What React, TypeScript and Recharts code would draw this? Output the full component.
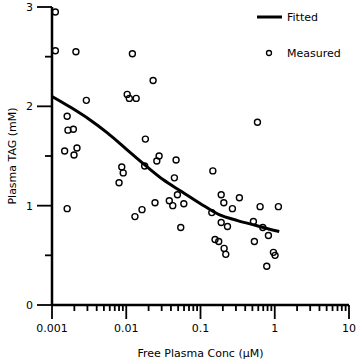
import React from 'react';
import { ComposedChart, Scatter, Line, XAxis, YAxis } from 'recharts';

// Measured points: free plasma concentration (µM) and plasma TAG (mM)
const measuredConc = [
  0.00111, 0.00111, 0.0021, 0.0121, 0.023, 0.0029, 0.0103, 0.011, 0.0136, 0.0016,
  0.00164, 0.00194, 0.00148, 0.00217, 0.00198, 0.0181, 0.0087, 0.0091, 0.008, 0.0177,
  0.0016, 0.0163, 0.0131, 0.0244, 0.585, 0.0277, 0.0258, 0.0469, 0.0445, 0.1466,
  0.038, 0.0423, 0.0489, 0.0596, 0.0542, 0.19, 0.206, 0.334, 0.269, 0.142,
  0.19, 0.231, 0.157, 0.176, 0.208, 0.219, 0.516, 0.532, 0.635, 1.12,
  0.822, 0.96, 1.01, 0.78, 0.69,
];
const measuredTag = [
  2.95, 2.56, 2.55, 2.53, 2.26, 2.06, 2.12, 2.08, 2.08, 1.9,
  1.76, 1.77, 1.55, 1.58, 1.51, 1.67, 1.39, 1.33, 1.23, 1.4,
  0.97, 0.96, 0.89, 1.03, 1.84, 1.5, 1.45, 1.46, 1.28, 1.35,
  1.05, 1.0, 1.11, 1.02, 0.78, 1.11, 1.03, 1.08, 0.97, 0.93,
  0.83, 0.79, 0.66, 0.64, 0.57, 0.51, 0.84, 0.64, 0.99, 0.99,
  0.7, 0.53, 0.5, 0.39, 0.78,
];

// Fitted curve
const fittedConc = [0.001, 0.00178, 0.00316, 0.00562, 0.01, 0.0178, 0.0316, 0.0562, 0.1, 0.178, 0.316, 0.562, 1, 1.15];
const fittedTag = [2.1, 1.99, 1.87, 1.73, 1.57, 1.41, 1.26, 1.14, 1.02, 0.91, 0.85, 0.8, 0.75, 0.74];

// Axis ticks
const xMajorTicks = [0.001, 0.01, 0.1, 1, 10];
const xMajorLabels = ['0.001', '0.01', '0.1', '1', '10'];
const xMinorSteps = [2, 3, 4, 5, 6, 7, 8, 9];
const yTicks = [0, 0.5, 1, 1.5, 2, 2.5, 3];
const yLabels = ['0', '', '1', '', '2', '', '3'];

const xTitle = 'Free Plasma Conc (μM)';
const yTitle = 'Plasma TAG (mM)';
const legendNames = ['Fitted', 'Measured'];

const measured = measuredConc.map((x, i) => ({ x, y: measuredTag[i] }));
const fitted = fittedConc.map((x, i) => ({ x, y: fittedTag[i] }));
const xTicks: number[] = [];
xMajorTicks.forEach((m, i) => {
  xTicks.push(m);
  if (i < xMajorTicks.length - 1) xMinorSteps.forEach((s) => xTicks.push(m * s));
});

const majorIndex = (v: number) => xMajorTicks.findIndex((m) => Math.abs(Math.log10(v) - Math.log10(m)) < 1e-6);

// tick-mark anchors on the axes (drawn through the chart scales)
const xTickMarks = xTicks.map((v) => ({ x: v, y: yTicks[0], major: majorIndex(v) >= 0 }));
const yTickMarks = yTicks.map((v, i) => ({ x: xMajorTicks[0], y: v, major: yLabels[i] !== '' }));

const FONT = 'DejaVu Sans';

const renderXTick = (props: any) => {
  const { x, y, payload } = props;
  const idx = majorIndex(payload.value);
  if (idx < 0) return <g />;
  return (
    <text x={x} y={y + 27} textAnchor="middle" fontSize={11} fontFamily={FONT} fill="#000">
      {xMajorLabels[idx]}
    </text>
  );
};

const renderYTick = (props: any) => {
  const { x, y, payload } = props;
  const idx = yTicks.indexOf(payload.value);
  const label = yLabels[idx] || '';
  if (!label) return <g />;
  return (
    <text x={x - 19} y={y + 4} textAnchor="end" fontSize={11} fontFamily={FONT} fill="#000">
      {label}
    </text>
  );
};

const XTickMark = (props: any) => {
  const { cx, cy, payload } = props;
  if (cx == null || cy == null) return null;
  const len = payload && payload.major ? 14 : 6;
  return <line x1={cx} x2={cx} y1={cy} y2={cy + len} stroke="#000" strokeWidth={1.8} />;
};

const YTickMark = (props: any) => {
  const { cx, cy, payload } = props;
  if (cx == null || cy == null) return null;
  const len = payload && payload.major ? 15 : 7;
  return <line x1={cx - len} x2={cx} y1={cy} y2={cy} stroke="#000" strokeWidth={1.8} />;
};

const Circle = (props: any) => {
  const { cx, cy } = props;
  if (cx == null || cy == null) return null;
  return <circle cx={cx} cy={cy} r={3} fill="none" stroke="#000" strokeWidth={1.4} />;
};

export default function App() {
  return (
    <div style={{ position: 'absolute', left: 0, top: 0, width: 357, height: 363, background: '#fff' }}>
      <ComposedChart width={357} height={363} margin={{ top: 7, right: 8, bottom: 0, left: 0 }}>
        <XAxis
          dataKey="x"
          type="number"
          scale="log"
          domain={[0.001, 10]}
          ticks={xTicks}
          interval={0}
          height={58}
          tickSize={0}
          tickMargin={0}
          tickLine={false}
          axisLine={{ stroke: '#000', strokeWidth: 2.5 }}
          tick={renderXTick}
        />
        <YAxis
          dataKey="y"
          type="number"
          domain={[0, 3]}
          ticks={yTicks}
          interval={0}
          width={52}
          tickSize={0}
          tickMargin={0}
          tickLine={false}
          axisLine={{ stroke: '#000', strokeWidth: 2.5 }}
          tick={renderYTick}
        />
        <Scatter data={xTickMarks} shape={<XTickMark />} isAnimationActive={false} legendType="none" />
        <Scatter data={yTickMarks} shape={<YTickMark />} isAnimationActive={false} legendType="none" />
        <Scatter name={legendNames[1]} data={measured} shape={<Circle />} isAnimationActive={false} />
        <Line
          name={legendNames[0]}
          data={fitted}
          dataKey="y"
          type="monotone"
          stroke="#000"
          strokeWidth={3}
          dot={false}
          activeDot={false}
          isAnimationActive={false}
        />
      </ComposedChart>
      <svg
        width={357}
        height={363}
        style={{ position: 'absolute', left: 0, top: 0, pointerEvents: 'none' }}
      >
        <text x={200.5} y={357} textAnchor="middle" fontSize={11} fontFamily={FONT} fill="#000">
          {xTitle}
        </text>
        <text
          x={12}
          y={156}
          transform="rotate(-90, 12, 156)"
          textAnchor="middle"
          dominantBaseline="central"
          fontSize={11}
          fontFamily={FONT}
          fill="#000"
        >
          {yTitle}
        </text>
        <line x1={257} x2={282} y1={17} y2={17} stroke="#000" strokeWidth={3} />
        <text x={287} y={21} fontSize={11} fontFamily={FONT} fill="#000">
          {legendNames[0]}
        </text>
        <circle cx={269} cy={53} r={2.5} fill="none" stroke="#000" strokeWidth={1.3} />
        <text x={287} y={57} fontSize={11} fontFamily={FONT} fill="#000">
          {legendNames[1]}
        </text>
      </svg>
    </div>
  );
}
